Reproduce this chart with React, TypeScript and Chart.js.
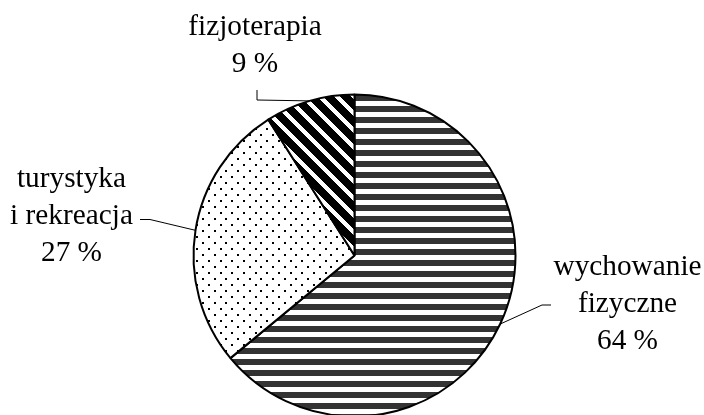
import React, { useEffect, useRef } from "react";
import { Chart, registerables } from "chart.js";

Chart.register(...registerables);

const categories = ["wychowanie fizyczne", "turystyka i rekreacja", "fizjoterapia"];
const shares = [64, 27, 9];
const labelLines = [
  ["wychowanie", "fizyczne"],
  ["turystyka", "i rekreacja"],
  ["fizjoterapia"],
];

function makeTile(w: number, h: number, draw: (c: CanvasRenderingContext2D) => void) {
  const cv = document.createElement("canvas");
  cv.width = w;
  cv.height = h;
  const c = cv.getContext("2d")!;
  draw(c);
  return cv;
}

function makePatterns(ctx: CanvasRenderingContext2D) {
  // horizontal stripes
  const stripeTile = makeTile(8, 11, (c) => {
    c.fillStyle = "#ffffff";
    c.fillRect(0, 0, 8, 11);
    c.fillStyle = "#333333";
    c.fillRect(0, 7, 8, 4);
    c.fillRect(0, 0, 8, 2);
  });
  const stripes = ctx.createPattern(stripeTile, "repeat")!;

  // dots
  const dotTile = makeTile(35, 12, (c) => {
    c.fillStyle = "#ffffff";
    c.fillRect(0, 0, 35, 12);
    c.fillStyle = "#000000";
    [0, 12, 23].forEach((x) => c.fillRect(x, 0, 2, 2));
    [6, 18, 29].forEach((x) => c.fillRect(x, 6, 2, 2));
  });
  const dots = ctx.createPattern(dotTile, "repeat")!;
  try {
    dots.setTransform(new DOMMatrix([1, 0, 0, 1, 27, 2]));
  } catch (e) {}

  // diagonal stripes "\"
  const diagTile = makeTile(17, 17, (c) => {
    const img = c.createImageData(17, 17);
    for (let y = 0; y < 17; y++) {
      for (let x = 0; x < 17; x++) {
        const m = (((x - y) % 17) + 17) % 17;
        const v = m < 6 ? 255 : 0;
        const i = (y * 17 + x) * 4;
        img.data[i] = v;
        img.data[i + 1] = v;
        img.data[i + 2] = v;
        img.data[i + 3] = 255;
      }
    }
    c.putImageData(img, 0, 0);
  });
  const diag = ctx.createPattern(diagTile, "repeat")!;

  return [stripes, dots, diag];
}

// label layout: text centre x, first baseline y, leader anchor and elbow
const labelLayout = [
  { cx: 627.5, y0: 275, anchor: [551, 305], elbow: [542, 305] },
  { cx: 71.5, y0: 187, anchor: [140, 219.5], elbow: [150, 219.5] },
  { cx: 255, y0: 35, anchor: [257, 90], elbow: [257, 100] },
];

const labelPlugin = {
  id: "pieLabels",
  afterDraw(chart: any) {
    const ctx: CanvasRenderingContext2D = chart.ctx;
    const meta = chart.getDatasetMeta(0);
    ctx.save();
    meta.data.forEach((arc: any, i: number) => {
      const L = labelLayout[i];
      const { x, y, outerRadius, startAngle, endAngle } = arc.getProps(
        ["x", "y", "outerRadius", "startAngle", "endAngle"],
        true
      );
      const mid = (startAngle + endAngle) / 2;
      const ex = x + Math.cos(mid) * outerRadius;
      const ey = y + Math.sin(mid) * outerRadius;
      ctx.strokeStyle = "#000";
      ctx.lineWidth = 1;
      ctx.beginPath();
      ctx.moveTo(L.anchor[0], L.anchor[1]);
      ctx.lineTo(L.elbow[0], L.elbow[1]);
      ctx.lineTo(ex, ey);
      ctx.stroke();

      ctx.fillStyle = "#000";
      ctx.font = '29.3px "Liberation Serif"';
      ctx.textAlign = "center";
      ctx.textBaseline = "alphabetic";
      const lines = [...labelLines[i], `${shares[i]} %`];
      lines.forEach((t, k) => ctx.fillText(t, L.cx, L.y0 + k * 37));
    });
    ctx.restore();
  },
};

export default function App() {
  const ref = useRef<HTMLCanvasElement>(null);
  useEffect(() => {
    const canvas = ref.current!;
    const ctx = canvas.getContext("2d")!;
    const patterns = makePatterns(ctx);
    const chart = new Chart(canvas, {
      type: "pie",
      data: {
        labels: categories,
        datasets: [
          {
            data: shares,
            backgroundColor: patterns as any,
            borderColor: "#000000",
            borderWidth: 2,
          },
        ],
      },
      options: {
        animation: false,
        responsive: false,
        maintainAspectRatio: false,
        events: [],
        radius: 161,
        layout: { padding: { left: 5 } },
        plugins: {
          legend: { display: false },
          tooltip: { enabled: false },
        },
      } as any,
      plugins: [labelPlugin],
    });
    return () => chart.destroy();
  }, []);
  return (
    <div
      style={{
        position: "fixed",
        left: 0,
        top: 0,
        width: 704,
        height: 415,
        overflow: "hidden",
        background: "#ffffff",
      }}
    >
      <canvas ref={ref} width={704} height={511} style={{ display: "block" }} />
    </div>
  );
}
